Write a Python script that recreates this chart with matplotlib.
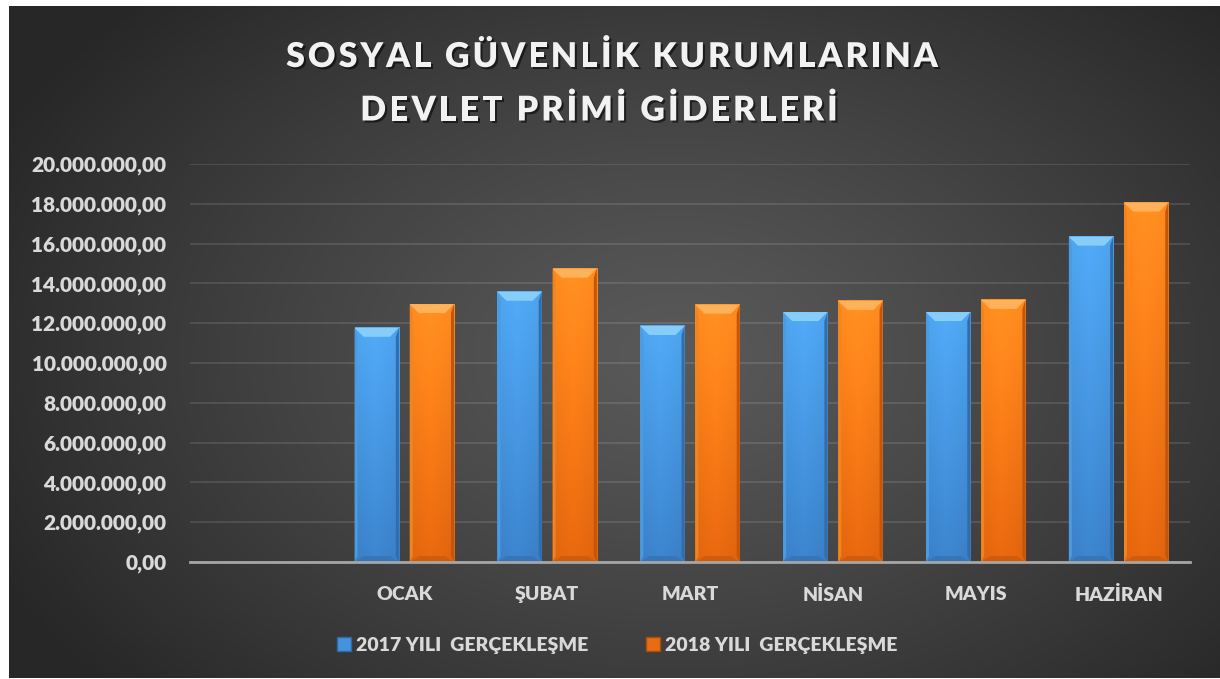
import numpy as np
import matplotlib.pyplot as plt
from matplotlib.patches import Polygon, Patch
import matplotlib.patheffects as pe
from matplotlib.font_manager import FontProperties

plt.rcParams['font.family'] = ['Lato', 'DejaVu Sans']
plt.rcParams['font.weight'] = 'heavy'

# data
months = ["OCAK", "ŞUBAT", "MART", "NİSAN", "MAYIS", "HAZİRAN"]
tick_labels = [""] + months          # first category slot is empty
val_2017 = [11.77e6, 13.58e6, 11.86e6, 12.56e6, 12.56e6, 16.35e6]
val_2018 = [12.96e6, 14.74e6, 12.93e6, 13.12e6, 13.17e6, 18.06e6]
series_names = ["2017 YILI  GERÇEKLEŞME", "2018 YILI  GERÇEKLEŞME"]
title_lines = ["SOSYAL GÜVENLİK KURUMLARINA", "DEVLET PRİMİ GİDERLERİ"]

W, H = 1220, 679
fig = plt.figure(figsize=(W / 100, H / 100), dpi=100, facecolor="white")

# dark radial background
bg = fig.add_axes([9 / W, 1 / H, 1 - 9 / W, (H - 7) / H])
bg.set_axis_off()
yy, xx = np.mgrid[0:300, 0:600]
xx = xx / 599.0
yy = yy / 299.0
r = np.sqrt(((xx - 0.55) / 0.62) ** 2 + ((yy - 0.52) / 0.75) ** 2)
r = np.clip(r, 0, 1)
c_in, c_out = 0.35, 0.155
g = c_in + (c_out - c_in) * r ** 1.2
bg.imshow(np.dstack([g, g, g]), aspect="auto", extent=(0, 1, 0, 1), interpolation="bicubic")
bg.set_xlim(0, 1)
bg.set_ylim(0, 1)

ax_left, ax_right = 190 / W, 1190 / W
ax_bot, ax_top = 1 - 562 / H, 1 - 164 / H
ax = fig.add_axes([ax_left, ax_bot, ax_right - ax_left, ax_top - ax_bot])
ax.set_facecolor("none")

n_cat = len(tick_labels)
pos = np.arange(1, n_cat)
bw = 0.31
off = 0.193

bars17 = ax.bar(pos - off, val_2017, bw, color="#4593dc", zorder=3)
bars18 = ax.bar(pos + off, val_2018, bw, color="#f57a17", zorder=3)

ax.set_xlim(-0.5, n_cat - 0.5)
ax.set_ylim(0, 20e6)

# pixel -> data conversions
ax_w_px = (ax_right - ax_left) * W
ax_h_px = (ax_top - ax_bot) * H
dxp = n_cat / ax_w_px
dyp = 20e6 / ax_h_px


def shade(rgb, f):
    return np.array(rgb) * f


def fancy(bars, top, bottom, bevel_top, bevel_low):
    top = np.array(plt.matplotlib.colors.to_rgb(top))
    bottom = np.array(plt.matplotlib.colors.to_rgb(bottom))
    for b in bars:
        x0, y0 = b.get_x(), b.get_y()
        w, h = b.get_width(), b.get_height()
        x1, y1 = x0 + w, y0 + h
        t = np.linspace(0, 1, 200)[:, None]
        u = np.linspace(0, 1, 40)[None, :]
        base = top[None, None, :] * (1 - t[..., None]) + bottom[None, None, :] * t[..., None]
        hf = 1.0 + 0.05 * (1 - np.abs(u - 0.45) * 2)
        img = np.clip(base * hf[..., None], 0, 1)
        ax.imshow(img, extent=(x0, x1, y0, y1), aspect="auto", zorder=4,
                  interpolation="bilinear")
        bx, by = 9 * dxp, 9 * dyp
        sx = 3 * dxp
        # top bevel
        ax.add_patch(Polygon([(x0, y1), (x1, y1), (x1 - bx, y1 - by), (x0 + bx, y1 - by)],
                             closed=True, facecolor=bevel_top, edgecolor="none", zorder=5))
        # side bevels
        ax.add_patch(Polygon([(x1, y1), (x1, y0), (x1 - sx, y0 + 6 * dyp), (x1 - sx, y1 - by)],
                             closed=True, facecolor=shade(bottom, 0.86), edgecolor="none", zorder=5))
        ax.add_patch(Polygon([(x0, y1), (x0, y0), (x0 + sx, y0 + 6 * dyp), (x0 + sx, y1 - by)],
                             closed=True, facecolor=shade(top, 0.95), edgecolor="none", zorder=5))
        # bottom bevel
        ax.add_patch(Polygon([(x0, y0), (x1, y0), (x1 - bx, y0 + 6 * dyp), (x0 + bx, y0 + 6 * dyp)],
                             closed=True, facecolor=bevel_low, edgecolor="none", zorder=5))


fancy(bars17, "#4ea4ee", "#3a7fc6", "#86cdfa", "#3675b8")
fancy(bars18, "#ff8b1f", "#e0640e", "#ffb25a", "#cf5c0c")

# axes styling
for s in ["top", "right", "left"]:
    ax.spines[s].set_visible(False)
ax.spines["bottom"].set_color("#a6a6a6")
ax.spines["bottom"].set_linewidth(2)
ax.spines["bottom"].set_zorder(6)
yt = np.arange(0, 20e6 + 1, 2e6)
ax.set_yticks(yt)
ax.set_yticklabels([f"{v:,.2f}".replace(",", "X").replace(".", ",").replace("X", ".") for v in yt])
ax.set_xticks(np.arange(n_cat))
ax.set_xticklabels(tick_labels)
ax.tick_params(axis="both", length=0, colors="#d9d9d9", labelsize=14)
ax.tick_params(axis="y", pad=17, labelsize=15)
ax.tick_params(axis="x", pad=17)
ax.yaxis.grid(True, color="white", alpha=0.13, linewidth=1.2, zorder=0)
ax.set_axisbelow(True)

# title with letter spacing
renderer = fig.canvas.get_renderer()
fp = FontProperties(family=["Lato", "DejaVu Sans"], weight="heavy", size=24.5)


def spaced(s, cx, base_y, spacing):
    widths = [renderer.get_text_width_height_descent(ch, fp, ismath=False)[0] for ch in s]
    total = sum(widths) + spacing * (len(s) - 1)
    x = cx - total / 2
    for ch, w in zip(s, widths):
        fig.text(x / W, 1 - base_y / H, ch, fontproperties=fp, color="#f2f2f2",
                 va="baseline", ha="left",
                 path_effects=[pe.SimplePatchShadow(offset=(1.5, -1.5), shadow_rgbFace="black", alpha=0.55),
                               pe.Normal()])
        x += w + spacing


spaced(title_lines[0], 612, 67, 3.0)
spaced(title_lines[1], 599, 120.5, 3.0)

# legend
handles = [Patch(facecolor="#4593dc", edgecolor="#2f6aa8"),
           Patch(facecolor="#e86d12", edgecolor="#a94d0b")]
leg = fig.legend(handles, series_names, loc="center", bbox_to_anchor=(617 / W, 1 - 645 / H),
                 ncol=2, frameon=False, handlelength=0.7, handleheight=0.7,
                 handletextpad=0.25, columnspacing=3.0,
                 prop=FontProperties(family=["Lato", "DejaVu Sans"], weight="heavy", size=14))
for t in leg.get_texts():
    t.set_color("#d9d9d9")

fig.savefig("out.png", dpi=100, facecolor="white")
